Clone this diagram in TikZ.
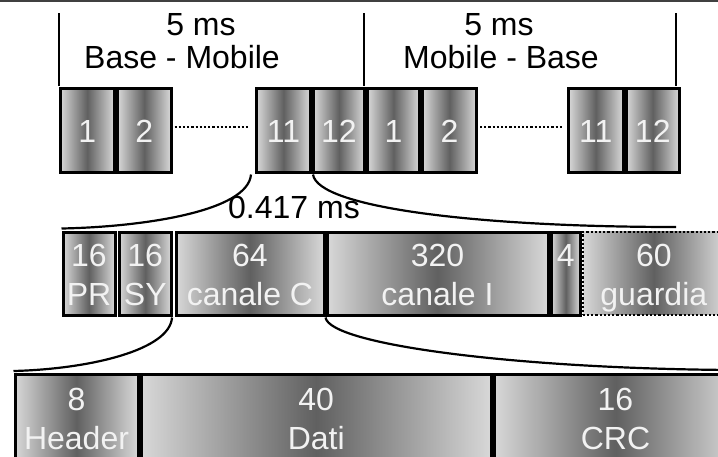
\documentclass[tikz,border=0pt]{standalone}
\usepackage{fontspec}
\setmainfont{Liberation Sans}
\definecolor{lt}{RGB}{216,216,216}
\definecolor{dk}{RGB}{96,96,96}
\definecolor{txt}{RGB}{242,242,242}
\definecolor{framec}{RGB}{64,64,64}
\newcommand\bigf{\fontsize{32}{39}\selectfont}
\newcommand\lstrut{\rule[-7pt]{0pt}{39pt}}
\begin{document}
\begin{tikzpicture}[x=1pt,y=-1pt,
  box/.style={draw=black, line width=3pt, left color=lt, right color=lt, middle color=dk,
    text=txt, inner sep=0pt, anchor=north west, align=center, font=\bigf},
  toprow/.style={box, minimum height=84pt},
  midrow/.style={box, minimum height=83pt},
  botrow/.style={box, minimum height=86pt},
  lbl/.style={font=\bigf, text=black, inner sep=0pt, anchor=base},
  dotline/.style={line width=2.4pt, dash pattern=on 2.2pt off 2pt, shorten <=2pt, shorten >=5pt},
  curve/.style={line width=2.2pt, black},
  tick/.style={line width=2.2pt, black}]
\useasboundingbox (0,0) rectangle (718,456);
\clip (0,0) rectangle (718,456);
% frame line at top
\coordinate (fl) at (0,1);
\coordinate (fr) at (718,1);
\draw[framec, line width=2.5pt] (fl) -- (fr);
% top row
\node[toprow, minimum width=54.5pt] (b1) at (58.5,86.5) {\lstrut 1};
\node[toprow, minimum width=53.5pt] (b2) at (116,86.5) {\lstrut 2};
\node[toprow, minimum width=54pt] (b11) at (255,86.5) {\lstrut 11};
\node[toprow, minimum width=51pt] (b12) at (312,86.5) {\lstrut 12};
\node[toprow, minimum width=52pt] (c1) at (366,86.5) {\lstrut 1};
\node[toprow, minimum width=54pt] (c2) at (421,86.5) {\lstrut 2};
\node[toprow, minimum width=54.5pt] (c11) at (567,86.5) {\lstrut 11};
\node[toprow, minimum width=53.5pt] (c12) at (624.5,86.5) {\lstrut 12};
\draw[dotline] ([yshift=3pt]b2.east) -- ([yshift=3pt]b11.west);
\draw[dotline] ([yshift=3pt]c2.east) -- ([yshift=3pt]c11.west);
% period ticks
\coordinate (v1) at (59,13);
\coordinate (v1b) at (59,86);
\coordinate (v2) at (364,13);
\coordinate (v2b) at (364,86);
\coordinate (v3) at (676,13);
\coordinate (v3b) at (676,86);
\draw[tick] (v1) -- (v1b);
\draw[tick] (v2) -- (v2b);
\draw[tick] (v3) -- (v3b);
% top labels
\node[lbl] (t1a) at (201,35) {5 ms};
\node[lbl] (t1b) at (182,68) {Base - Mobile};
\node[lbl] (t2a) at (499,35) {5 ms};
\node[lbl] (t2b) at (501,68) {Mobile - Base};
% middle row
\node[midrow, minimum width=52pt] (pr) at (61.5,230.5) {\lstrut 16\\\lstrut PR};
\node[midrow, minimum width=52.5pt] (sy) at (117.5,230.5) {\lstrut 16\\\lstrut SY};
\node[midrow, minimum width=148pt] (cc) at (174.5,230.5) {\lstrut 64\\\lstrut canale C};
\node[midrow, minimum width=221pt] (ci) at (325.5,230.5) {\lstrut 320\\\lstrut canale I};
\node[midrow, minimum width=28.5pt] (f4) at (550,230.5) {\lstrut 4\\\lstrut};
\node[midrow, minimum width=142pt, line width=2.6pt, dash pattern=on 2.2pt off 2pt] (gu) at (581.5,230.5) {\lstrut 60\\\lstrut guardia};
\node[lbl, anchor=base west] (dur) at (228,218) {0.417 ms};
% bottom row
\node[botrow, minimum width=123pt] (hd) at (13.5,373) {\lstrut 8\\\lstrut Header};
\node[botrow, minimum width=350.5pt] (da) at (139.5,373) {\lstrut 40\\\lstrut Dati};
\node[botrow, minimum width=243pt] (crc) at (492.5,373) {\lstrut 16\\\lstrut CRC};
% zoom curves
\coordinate (r1end) at (676,227);
\draw[curve] ([xshift=-4pt,yshift=-1pt]b11.south west) .. controls (248,212) and (140,227) .. ([yshift=2pt]pr.north west);
\draw[curve] ([xshift=1pt,yshift=-1pt]b12.south west) .. controls (318,208) and (480,227) .. (r1end);
\draw[curve] ([xshift=-1pt,yshift=-1pt]sy.south east) .. controls (170,350) and (90,369) .. ([yshift=2pt]hd.north west);
\coordinate (r2end) at (736,370);
\draw[curve] ([yshift=-1pt]cc.south east) .. controls (330,345) and (520,369) .. (r2end);
\end{tikzpicture}
\end{document}
